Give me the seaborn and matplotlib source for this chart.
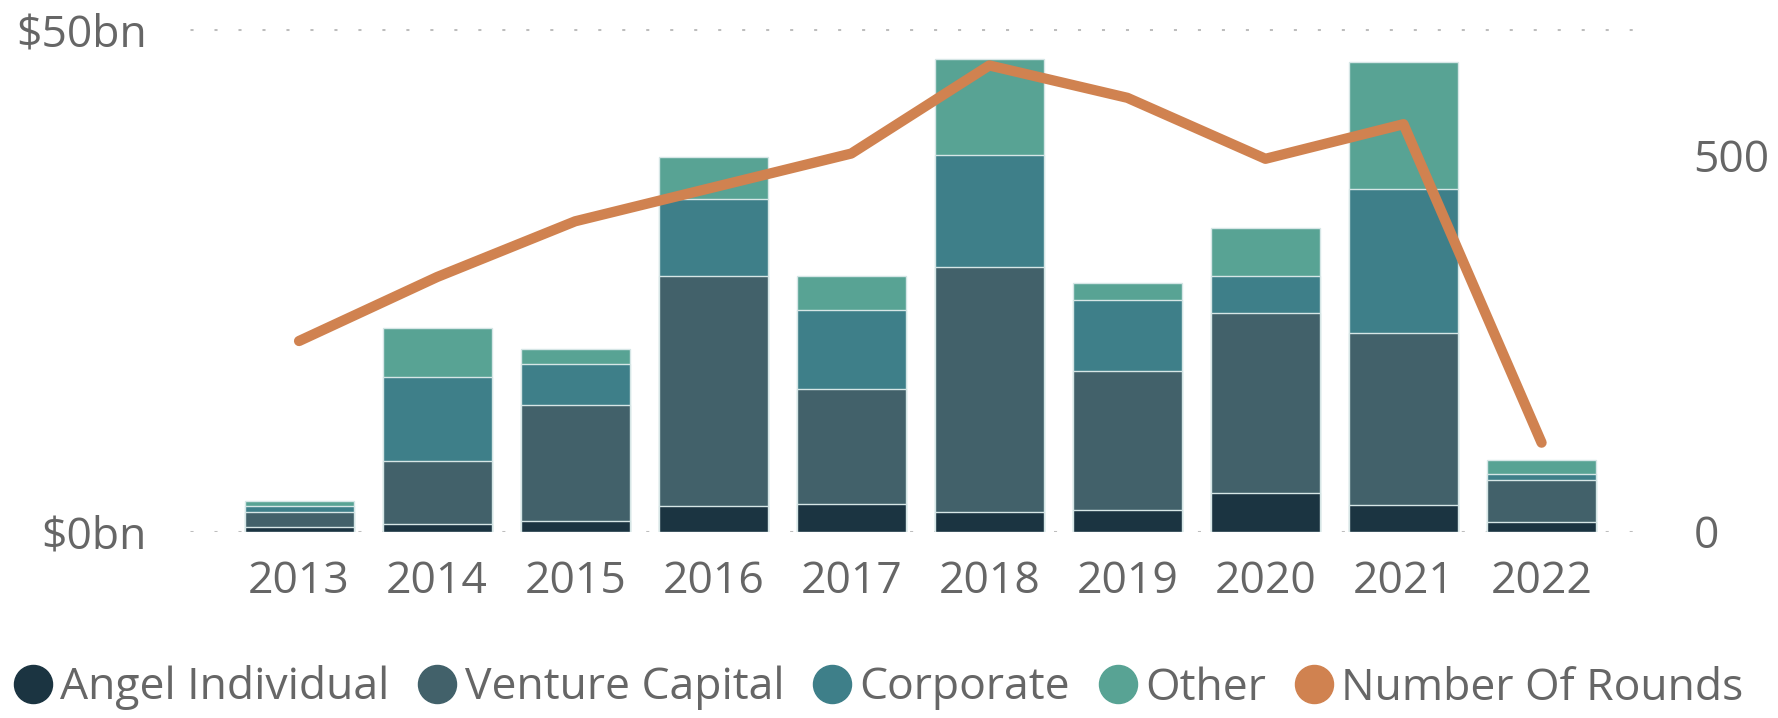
import matplotlib
matplotlib.use("Agg")
import matplotlib.pyplot as plt
import numpy as np
import seaborn as sns
from matplotlib.lines import Line2D

# funding by investor type, $bn
years = [2013, 2014, 2015, 2016, 2017, 2018, 2019, 2020, 2021, 2022]
angel = [0.4, 0.7, 1.0, 2.5, 2.7, 1.9, 2.1, 3.8, 2.6, 0.9]
venture = [1.5, 6.3, 11.6, 22.9, 11.5, 24.4, 13.9, 18.0, 17.2, 4.2]
corporate = [0.6, 8.4, 4.1, 7.7, 7.9, 11.2, 7.0, 3.6, 14.3, 0.6]
other = [0.5, 4.9, 1.5, 4.2, 3.3, 9.5, 1.7, 4.8, 12.6, 1.4]
rounds = [253, 338, 412, 457, 502, 619, 576, 495, 541, 118]

series = ["Angel Individual", "Venture Capital", "Corporate", "Other"]
colors = ["#1b3441", "#42616a", "#3e7f89", "#58a394"]
line_color = "#d08250"
text_color = "#666666"

sns.set_theme(style="white")
plt.rcParams["font.family"] = ["Open Sans", "DejaVu Sans"]
plt.rcParams["font.size"] = 32

fig = plt.figure(figsize=(17.78, 7.18), dpi=100)
ax = fig.add_axes([190 / 1778, 1 - 531.5 / 718, (1652 - 190) / 1778, (531.5 - 29.3) / 718])

# stacked bars: draw cumulative totals from the top layer down
layers = np.array([angel, venture, corporate, other])
cum = np.cumsum(layers, axis=0)
for i in range(len(series) - 1, -1, -1):
    sns.barplot(x=years, y=cum[i], color=colors[i], saturation=1, width=0.79,
                edgecolor="#d6e6e6", linewidth=1.0, ax=ax)

ax.set_xlim(-0.79, 9.8)
ax.set_ylim(0, 50)
ax.set_yticks([0, 50])
ax.set_yticklabels(["$0bn", "$50bn"])
ax.yaxis.grid(True, linestyle=(0, (1, 6.85)), linewidth=2.2, color="#bdbdbd")
ax.set_axisbelow(True)
ax.tick_params(axis="y", length=0, pad=31, labelsize=32, labelcolor=text_color)
ax.tick_params(axis="x", length=0, pad=20, labelsize=32, labelcolor=text_color)
ax.set_xlabel("")
ax.set_ylabel("")
sns.despine(ax=ax, left=True, bottom=True)

ax2 = ax.twinx()
sns.lineplot(x=np.arange(len(years)), y=rounds, color=line_color, linewidth=7.4,
             ax=ax2, solid_capstyle="round", solid_joinstyle="round")
ax2.set_ylim(0, 667)
ax2.set_yticks([0, 500])
ax2.set_yticklabels(["0", "500"])
ax2.tick_params(axis="y", length=0, pad=30, labelsize=32, labelcolor=text_color)
ax2.set_ylabel("")
ax2.grid(False)
for s in ax2.spines.values():
    s.set_visible(False)

handles = [Line2D([], [], marker="o", linestyle="", markersize=27.4,
                  markerfacecolor=c, markeredgecolor=c) for c in colors + [line_color]]
labels = series + ["Number Of Rounds"]
leg = fig.legend(handles, labels, loc="center left", bbox_to_anchor=(14 / 1778, 1 - 688 / 718),
                 ncol=5, frameon=False, fontsize=32, handlelength=0.86, handletextpad=0.18,
                 columnspacing=0.65, borderpad=0, borderaxespad=0)
for t in leg.get_texts():
    t.set_color(text_color)

fig.savefig("out.png", dpi=100)
